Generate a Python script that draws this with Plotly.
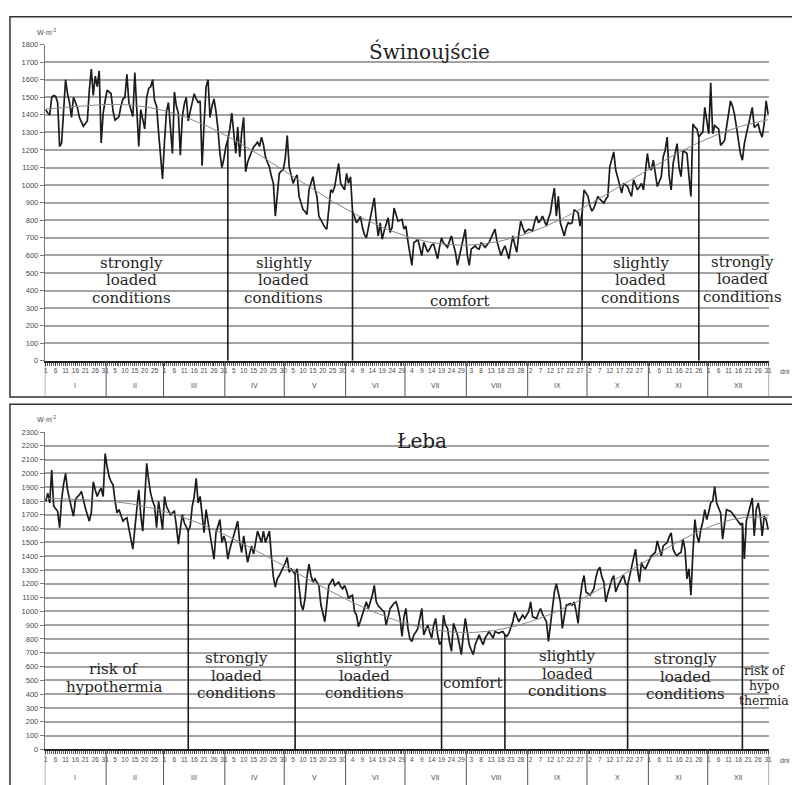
import numpy as np
import plotly.graph_objects as go

# ---------------------------------------------------------------------------
# Data: daily values (W·m-2) for a leap year, 366 days
# ---------------------------------------------------------------------------
months = ["I", "II", "III", "IV", "V", "VI", "VII", "VIII", "IX", "X", "XI", "XII"]
month_days = [31, 29, 31, 30, 31, 30, 31, 31, 30, 31, 30, 31]

swinoujscie = [
    # I
    1430, 1410, 1400, 1500, 1510, 1505, 1470, 1220, 1240, 1450, 1600, 1520, 1470, 1385, 1500, 1470,
    1440, 1385, 1360, 1335, 1350, 1365, 1540, 1660, 1510, 1620, 1560, 1650, 1240, 1410, 1480,
    # II
    1540, 1530, 1520, 1420, 1370, 1380, 1390, 1450, 1490, 1500, 1630, 1470, 1430, 1390, 1640, 1400,
    1220, 1430, 1380, 1320, 1500, 1550, 1560, 1600, 1480, 1450, 1300, 1150, 1035,
    # III
    1250, 1420, 1470, 1300, 1180, 1530, 1450, 1410, 1170, 1390, 1460, 1500, 1365, 1420, 1480, 1520,
    1490, 1470, 1480, 1110, 1350, 1560, 1600, 1385, 1450, 1490, 1420, 1320, 1180, 1100, 1150,
    # IV
    1220, 1260, 1320, 1410, 1300, 1180, 1330, 1160, 1300, 1385, 1076, 1130, 1161, 1190, 1217, 1230,
    1245, 1220, 1273, 1230, 1161, 1130, 1104, 1050, 1010, 824, 960, 1067, 1080, 1086,
    # V
    1150, 1282, 1104, 1050, 1010, 1040, 1058, 936, 900, 861, 850, 833, 973, 1010, 1048, 980,
    936, 824, 800, 777, 760, 749, 880, 973, 960, 992, 1060, 1123, 1010, 990, 973,
    # VI
    1067, 1010, 1048, 850, 820, 786, 800, 824, 760, 720, 700, 760, 824, 880, 927, 800,
    711, 786, 692, 740, 780, 814, 730, 760, 870, 830, 795, 800, 805, 750,
    # VII
    767, 680, 600, 543, 674, 680, 692, 640, 599, 674, 650, 620, 636, 660, 664, 620,
    580, 650, 700, 670, 655, 646, 680, 711, 660, 618, 543, 600, 655, 700, 749,
    # VIII
    600, 543, 636, 645, 655, 640, 636, 674, 660, 646, 660, 674, 700, 730, 749, 680,
    636, 599, 630, 655, 620, 580, 650, 711, 660, 618, 720, 795, 760, 730, 740,
    # IX
    749, 745, 739, 790, 824, 786, 800, 824, 790, 767, 810, 842, 920, 983, 824, 936,
    786, 740, 711, 760, 786, 780, 786, 861, 850, 842, 767, 842, 973, 950,
    # X
    936, 880, 852, 870, 900, 936, 920, 908, 898, 920, 936, 1104, 1150, 1189, 1086, 1048,
    1000, 955, 1010, 1000, 992, 960, 936, 1030, 1000, 973, 990, 1010, 973, 1080, 1180,
    # XI
    1100, 1086, 1142, 1060, 992, 1020, 1048, 1161, 1200, 1273, 1050, 973, 1123, 1180, 1236, 1100,
    1048, 1198, 1190, 1180, 1050, 936, 1348, 1330, 1320, 1273, 1290, 1301, 1442, 1350,
    # XII
    1292, 1582, 1292, 1339, 1330, 1320, 1226, 1240, 1254, 1330, 1404, 1479, 1450, 1404, 1330, 1254,
    1180, 1142, 1236, 1290, 1348, 1400, 1442, 1329, 1340, 1348, 1300, 1273, 1348, 1479, 1404,
]

leba = [
    # I
    1798, 1857, 1786, 2025, 1762, 1740, 1726, 1606, 1810, 1920, 2000, 1881, 1800, 1750, 1690, 1810,
    1830, 1845, 1870, 1800, 1750, 1700, 1654, 1714, 1940, 1880, 1833, 1870, 1893, 1833, 2144,
    # II
    2050, 1977, 1940, 1917, 1800, 1714, 1738, 1700, 1654, 1670, 1678, 1600, 1522, 1451, 1600, 1738,
    1881, 1700, 1582, 1810, 2073, 1950, 1857, 1800, 1762, 1606, 1798, 1700, 1594,
    # III
    1833, 1762, 1730, 1702, 1715, 1726, 1618, 1487, 1600, 1702, 1642, 1610, 1582, 1618, 1760, 1833,
    1965, 1786, 1833, 1700, 1570, 1738, 1642, 1570, 1450, 1379, 1570, 1620, 1666, 1499, 1547,
    # IV
    1500, 1379, 1450, 1499, 1547, 1600, 1654, 1500, 1427, 1547, 1450, 1355, 1420, 1475, 1415, 1500,
    1582, 1540, 1499, 1582, 1499, 1540, 1582, 1403, 1250, 1176, 1236, 1260, 1290, 1308,
    # V
    1350, 1391, 1284, 1308, 1290, 1270, 1308, 1164, 1050, 1009, 1093, 1250, 1343, 1260, 1212, 1236,
    1210, 1188, 1050, 997, 925, 1050, 1188, 1210, 1236, 1188, 1200, 1212, 1180, 1164, 1188,
    # VI
    1150, 1093, 1110, 1117, 1000, 973, 889, 930, 973, 1020, 1069, 1021, 1070, 1117, 1188, 1069,
    1040, 1021, 1010, 997, 901, 960, 1021, 1040, 1060, 1069, 1021, 950, 818, 960,
    # VII
    1021, 877, 800, 782, 830, 850, 877, 950, 1021, 830, 870, 901, 850, 806, 900, 949,
    830, 760, 782, 973, 900, 877, 780, 710, 913, 870, 830, 760, 687, 830, 949,
    # VIII
    850, 758, 720, 687, 758, 800, 830, 790, 758, 806, 830, 854, 830, 806, 854, 850,
    842, 850, 854, 830, 820, 842, 880, 925, 997, 960, 925, 950, 973, 949, 970,
    # IX
    997, 1069, 961, 955, 949, 990, 1021, 980, 949, 925, 782, 900, 1021, 1140, 1200, 1140,
    1069, 877, 960, 1045, 1050, 1057, 1045, 1069, 1000, 913, 1093, 1200, 1260, 1140,
    # X
    1130, 1117, 1140, 1164, 1248, 1300, 1320, 1250, 1212, 1069, 1130, 1188, 1230, 1260, 1140, 1180,
    1212, 1240, 1260, 1200, 1188, 1250, 1308, 1379, 1451, 1300, 1212, 1355, 1320, 1308, 1340,
    # XI
    1367, 1403, 1415, 1427, 1511, 1450, 1403, 1475, 1490, 1499, 1540, 1570, 1451, 1420, 1403, 1420,
    1427, 1523, 1450, 1236, 1308, 1117, 1427, 1666, 1550, 1499, 1594, 1650, 1738, 1666,
    # XII
    1720, 1786, 1800, 1905, 1786, 1750, 1714, 1523, 1650, 1738, 1730, 1726, 1710, 1690, 1670, 1654,
    1630, 1640, 1380, 1654, 1714, 1770, 1822, 1547, 1738, 1786, 1700, 1547, 1690, 1666, 1594,
]

# day numbers (1..366) where one class of conditions changes to the next
swin_bounds = [93, 156, 272, 331]
leba_bounds = [73, 127, 201, 233, 295, 353]

swin_zones = [
    ["strongly", "loaded", "conditions"],
    ["slightly", "loaded", "conditions"],
    ["comfort"],
    ["slightly", "loaded", "conditions"],
    ["strongly", "loaded", "conditions"],
]
leba_zones = [
    ["risk of", "hypothermia"],
    ["strongly", "loaded", "conditions"],
    ["slightly", "loaded", "conditions"],
    ["comfort"],
    ["slightly", "loaded", "conditions"],
    ["strongly", "loaded", "conditions"],
    ["risk of", "hypo", "thermia"],
]

assert len(swinoujscie) == 366 and len(leba) == 366

# ---------------------------------------------------------------------------
# Layout helpers (pixel -> paper)
# ---------------------------------------------------------------------------
W, H = 792, 785


def fx(px):
    return px / W


def fy(py):
    return 1 - py / H


days = np.arange(1, 367)
month_start = np.cumsum([0] + month_days[:-1]) + 1  # first day of each month
day_of_month = np.concatenate([np.arange(1, n + 1) for n in month_days])
tick_days = days[(days - 1) % 5 == 0]
tick_text = [str(day_of_month[d - 1]) for d in tick_days]

GRID = "#a3a3a3"
INK = "#1c1c1c"
LABEL = "#4a4a4a"
SERIF = "DejaVu Serif"
SANS = "Liberation Sans, Arial, sans-serif"

panels = [
    dict(title="Świnoujście", vals=swinoujscie, bounds=swin_bounds, xa="x", ya="y",
         ymax=1800, top=41, bottom=361, frame=(13, 397.5), unit_y=28, dni_y=372, month_y=386,
         sep_bottom=397, gap=(357, 519, 31, 67), title_xy=(431, 48),
         zones=swin_zones,
         zone_pos=[(131, 262, 15), (284, 262, 15), (461, 300, 15), (643, 262, 15), (745, 261, 15)]),
    dict(title="Łeba", vals=leba, bounds=leba_bounds, xa="x2", ya="y2",
         ymax=2300, top=433, bottom=754, frame=(405, 800), unit_y=420, dni_y=765, month_y=782,
         sep_bottom=792, gap=(358, 490, 425, 455), title_xy=(423, 442),
         zones=leba_zones,
         zone_pos=[(114, 673, 15), (237, 662, 15), (365, 662, 15), (474, 687, 15),
                   (569, 660, 15), (688, 663, 15), (767, 674, 12.5)]),
]

fig = go.Figure()
shapes, annotations = [], []

for i, p in enumerate(panels):
    vals = np.array(p["vals"], dtype=float)
    xa, ya = p["xa"], p["ya"]

    # daily series
    fig.add_trace(go.Scatter(x=days, y=vals, mode="lines", xaxis=xa, yaxis=ya,
                             line=dict(color=INK, width=1.7), hoverinfo="skip", showlegend=False))

    # polynomial trend of the daily series
    trend = np.polynomial.Polynomial.fit(days, vals, 6)(days)
    fig.add_trace(go.Scatter(x=days, y=trend, mode="lines", xaxis=xa, yaxis=ya,
                             line=dict(color="#8a8a8a", width=1), hoverinfo="skip", showlegend=False))

    # vertical dividers between classes, drawn up to the day's value
    vx, vy = [], []
    for d in p["bounds"]:
        vx += [d, d, None]
        vy += [0, vals[d - 1], None]
    fig.add_trace(go.Scatter(x=vx, y=vy, mode="lines", xaxis=xa, yaxis=ya,
                             line=dict(color=INK, width=1.6), hoverinfo="skip", showlegend=False))

    axis_suffix = "" if i == 0 else "2"
    fig.update_layout(**{
        "xaxis" + axis_suffix: dict(
            domain=[fx(44), fx(772)], range=[0.5, 366.5], anchor=ya,
            tickmode="array", tickvals=tick_days, ticktext=tick_text, tickangle=0,
            tickfont=dict(family=SANS, size=6.5, color=LABEL),
            ticks="outside", ticklen=3, tickcolor="#333",
            minor=dict(tickmode="linear", tick0=1, dtick=1, ticks="outside", ticklen=3,
                       tickcolor="#666", showgrid=False),
            showline=True, linecolor="#222", linewidth=1.6,
            showgrid=False, zeroline=False, fixedrange=True),
        "yaxis" + axis_suffix: dict(
            domain=[fy(p["bottom"]), fy(p["top"])], range=[0, p["ymax"]], anchor=xa,
            tickmode="linear", tick0=0, dtick=100,
            tickfont=dict(family=SANS, size=7.5, color=LABEL),
            ticks="outside", ticklen=4, tickcolor="#777",
            showline=True, linecolor="#777", linewidth=1,
            showgrid=True, gridcolor=GRID, gridwidth=1.5, zeroline=False, fixedrange=True),
    })

    # outer frame of the panel
    shapes.append(dict(type="rect", xref="paper", yref="paper",
                       x0=fx(9), x1=fx(806), y0=fy(p["frame"][1]), y1=fy(p["frame"][0]),
                       line=dict(color="#333", width=1.5), fillcolor="rgba(0,0,0,0)"))

    # white gap in the top grid lines behind the station name
    gx0, gx1, gy0, gy1 = p["gap"]
    shapes.append(dict(type="rect", xref="paper", yref="paper", layer="between",
                       x0=fx(gx0), x1=fx(gx1), y0=fy(gy1), y1=fy(gy0),
                       line=dict(width=0), fillcolor="white"))
    annotations.append(dict(text=p["title"], xref="paper", yref="paper",
                            x=fx(p["title_xy"][0]), y=fy(p["title_xy"][1]),
                            xanchor="center", yanchor="middle", showarrow=False,
                            font=dict(family=SERIF, size=20, color="#222")))

    # month separators and month names below the day labels
    for b in list(month_start - 0.5) + [366.5]:
        shapes.append(dict(type="line", xref=xa, yref="paper", x0=b, x1=b,
                           y0=fy(p["bottom"]), y1=fy(p["sep_bottom"]),
                           line=dict(color="#555", width=1)))
    for m, s, n in zip(months, month_start, month_days):
        annotations.append(dict(text=m, xref=xa, yref="paper", x=s + (n - 1) / 2,
                                y=fy(p["month_y"]), xanchor="center", yanchor="middle",
                                showarrow=False, font=dict(family=SANS, size=7, color=LABEL)))

    # unit and axis captions
    annotations.append(dict(text="W·m<sup>-2</sup>", xref="paper", yref="paper",
                            x=fx(34), y=fy(p["unit_y"]), xanchor="left", yanchor="middle",
                            showarrow=False, font=dict(family=SANS, size=7, color=LABEL)))
    annotations.append(dict(text="dni", xref="paper", yref="paper",
                            x=fx(781), y=fy(p["dni_y"]), xanchor="left", yanchor="middle",
                            showarrow=False, font=dict(family=SANS, size=7, color=LABEL)))

    # class names inside each period, one centred annotation per line
    for lines, (cx, cy, size) in zip(p["zones"], p["zone_pos"]):
        step = 17.5 if size >= 15 else 15.5
        for k, line in enumerate(lines):
            annotations.append(dict(text=line, xref="paper", yref="paper",
                                    x=fx(cx), y=fy(cy + k * step),
                                    xanchor="center", yanchor="middle", showarrow=False,
                                    font=dict(family=SERIF, size=size, color="#262626")))

fig.update_layout(
    width=W, height=H, margin=dict(l=0, r=0, t=0, b=0),
    paper_bgcolor="white", plot_bgcolor="white",
    shapes=shapes, annotations=annotations, showlegend=False,
)

fig.write_html("out.html")
